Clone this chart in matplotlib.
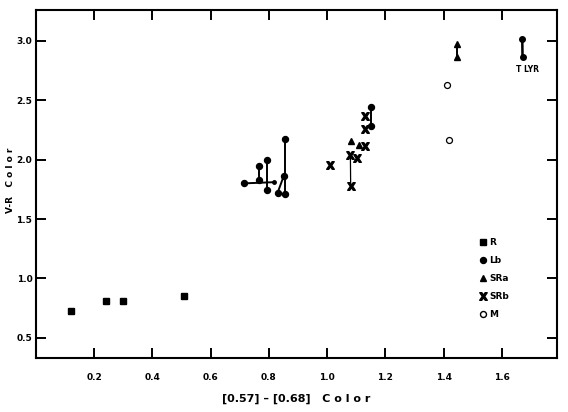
import matplotlib
matplotlib.use("Agg")
import matplotlib.pyplot as plt
from matplotlib.lines import Line2D

# R stars (filled squares)
r_x = [0.12, 0.24, 0.30, 0.51]
r_y = [0.73, 0.81, 0.81, 0.85]

# Lb stars, measured twice -> joined pairs
lb_x1 = [0.715, 0.765, 0.795, 0.830, 0.855, 1.150]
lb_y1 = [1.80, 1.95, 2.00, 1.72, 2.17, 2.44]
lb_x2 = [0.818, 0.765, 0.795, 0.851, 0.855, 1.150]
lb_y2 = [1.81, 1.83, 1.74, 1.86, 1.71, 2.28]

# SRa stars
sra_x = [1.082, 1.110]
sra_y = [2.156, 2.120]
sra_pair_x = [1.445, 1.445]
sra_pair_y = [2.97, 2.86]

# SRb stars
srb_x = [1.010, 1.101, 1.131, 1.129, 1.129]
srb_y = [1.957, 2.017, 2.115, 2.366, 2.255]
srb_pair_x = [1.080, 1.081]
srb_pair_y = [2.038, 1.774]

# M stars (open circles)
m_x = [1.412, 1.418]
m_y = [2.624, 2.164]

# T Lyr
tlyr_x = [1.670, 1.671]
tlyr_y = [3.017, 2.860]

xticks = [0.2, 0.4, 0.6, 0.8, 1.0, 1.2, 1.4, 1.6]
yticks = [0.5, 1.0, 1.5, 2.0, 2.5, 3.0]

fig = plt.figure(figsize=(5.68, 4.12), dpi=100)
ax = fig.add_axes([0.063, 0.131, 0.918, 0.845])

lw = 1.4
xmark = r'$\mathbf{X}$'

ax.plot(r_x, r_y, ls='none', marker='s', ms=3.8, color='k')

for i in range(len(lb_x1)):
    ax.plot([lb_x1[i], lb_x2[i]], [lb_y1[i], lb_y2[i]], color='k', lw=lw)
    ax.plot([lb_x1[i]], [lb_y1[i]], marker='o', ms=4.3, color='k')
    # end of the horizontal pair is only a small blob in the original
    end_ms = 2.5 if i == 0 else 4.3
    ax.plot([lb_x2[i]], [lb_y2[i]], marker='o', ms=end_ms, color='k')

ax.plot(sra_x, sra_y, ls='none', marker='^', ms=3.8, color='k')
ax.plot(sra_pair_x, sra_pair_y, color='k', lw=lw, marker='^', ms=3.8)

ax.plot(srb_pair_x, srb_pair_y, color='k', lw=0.9)
ax.plot(srb_pair_x, srb_pair_y, ls='none', marker=xmark, ms=5.5, color='k')
ax.plot(srb_x, srb_y, ls='none', marker=xmark, ms=5.5, color='k')

ax.plot(m_x, m_y, ls='none', marker='o', ms=4.3, mfc='white', mec='k', mew=0.9)

ax.plot(tlyr_x, tlyr_y, color='k', lw=lw * 1.3, marker='o', ms=4)
ax.text(1.688, 2.757, 'T LYR', fontsize=5.5, fontweight='bold',
        ha='center', va='center')

ax.set_xlim(0.0, 1.79)
ax.set_ylim(0.33, 3.26)
ax.set_xticks(xticks)
ax.set_yticks(yticks)
ax.set_xticklabels(['%.1f' % v for v in xticks])
ax.set_yticklabels(['%.1f' % v for v in yticks])
ax.tick_params(direction='in', top=True, right=True, length=7, width=1.4,
               labelsize=6.5)
ax.tick_params(axis='x', pad=11)
ax.tick_params(axis='y', pad=2.5)
for lab in ax.get_xticklabels() + ax.get_yticklabels():
    lab.set_fontweight('bold')
for sp in ax.spines.values():
    sp.set_linewidth(1.5)

ax.set_xlabel('[0.57] \u2013 [0.68]   C o l o r', fontsize=8, fontweight='bold',
              labelpad=8)
ax.set_ylabel('V-R   C o l o r', fontsize=6.5, fontweight='bold')
ax.yaxis.set_label_coords(-0.04, 0.51)

handles = [
    Line2D([], [], ls='none', marker='s', ms=3.8, color='k'),
    Line2D([], [], ls='none', marker='o', ms=4.3, color='k'),
    Line2D([], [], ls='none', marker='^', ms=3.8, color='k'),
    Line2D([], [], ls='none', marker=xmark, ms=5.5, color='k'),
    Line2D([], [], ls='none', marker='o', ms=4.3, mfc='white', mec='k'),
]
ax.legend(handles, ['R', 'Lb', 'SRa', 'SRb', 'M'], loc='upper left',
          bbox_to_anchor=(0.852, 0.344), frameon=False, borderpad=0,
          borderaxespad=0, handlelength=0.7, handletextpad=0.3,
          labelspacing=1.0, prop={'size': 6.5, 'weight': 'bold'})

fig.savefig('out.png', dpi=100)
